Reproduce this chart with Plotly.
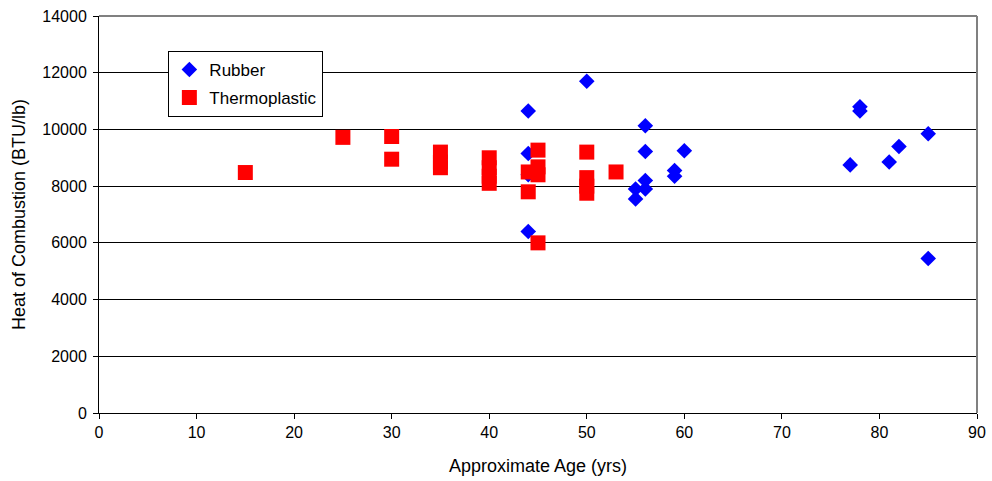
import plotly.graph_objects as go

rubber_age = [44, 44, 44, 44, 50, 55, 55, 56, 56, 56, 56, 59, 59, 60, 77, 78, 78, 81, 82, 85, 85]
rubber_heat = [10650, 9150, 8400, 6400, 11700, 7900, 7550, 10130, 9220, 8200, 7900, 8550, 8350, 9250,
               8750, 10800, 10650, 8850, 9400, 9850, 5450]

thermo_age = [15, 25, 30, 30, 35, 35, 35, 40, 40, 40, 40, 44, 44, 45, 45, 45, 45, 50, 50, 50, 50, 53]
thermo_heat = [8480, 9720, 9750, 8950, 9200, 8850, 8650, 9000, 8650, 8350, 8100, 8500, 7800, 9270,
               8680, 8400, 6000, 9200, 8300, 8000, 7750, 8500]

FAM = "Liberation Sans, Arial, sans-serif"

fig = go.Figure()
fig.add_trace(go.Scatter(x=rubber_age, y=rubber_heat, mode="markers", name="Rubber",
                         legendgroup="r",
                         marker=dict(symbol="diamond", size=12, color="#0000FF")))
fig.add_trace(go.Scatter(x=thermo_age, y=thermo_heat, mode="markers", name="Thermoplastic",
                         legendgroup="t",
                         marker=dict(symbol="square", size=15, color="#FF0000")))

fig.update_layout(
    width=992, height=481,
    margin=dict(l=99, r=15, t=16, b=68),
    paper_bgcolor="white", plot_bgcolor="white",
    font=dict(family=FAM, size=16, color="black"),
    showlegend=True,
    legend=dict(x=0.079, y=0.912, xanchor="left", yanchor="top",
                bordercolor="black", borderwidth=1, bgcolor="white",
                font=dict(family=FAM, size=17),
                tracegroupgap=3),
    xaxis=dict(range=[0, 90], dtick=10, showgrid=False, zeroline=False,
               showline=True, linecolor="black", linewidth=1,
               ticks="outside", ticklen=5, tickcolor="black", automargin=False,
               tickfont=dict(size=16),
               title=dict(text="Approximate Age (yrs)", font=dict(size=18), standoff=19)),
    yaxis=dict(range=[0, 14000], dtick=2000, showgrid=True, gridcolor="black", gridwidth=1,
               tickformat="d",
               zeroline=False, showline=True, linecolor="black", linewidth=1,
               ticks="outside", ticklen=5, tickcolor="black", automargin=False,
               tickfont=dict(size=16), ticklabelstandoff=3,
               title=dict(text="Heat of Combustion (BTU/lb)", font=dict(size=18), standoff=11)),
    shapes=[
        dict(type="line", xref="paper", yref="paper", x0=0, x1=1, y0=1, y1=1,
             line=dict(color="#808080", width=2)),
        dict(type="line", xref="paper", yref="paper", x0=1, x1=1, y0=0, y1=1,
             line=dict(color="#808080", width=2)),
    ],
)
fig.write_html("out.html")
